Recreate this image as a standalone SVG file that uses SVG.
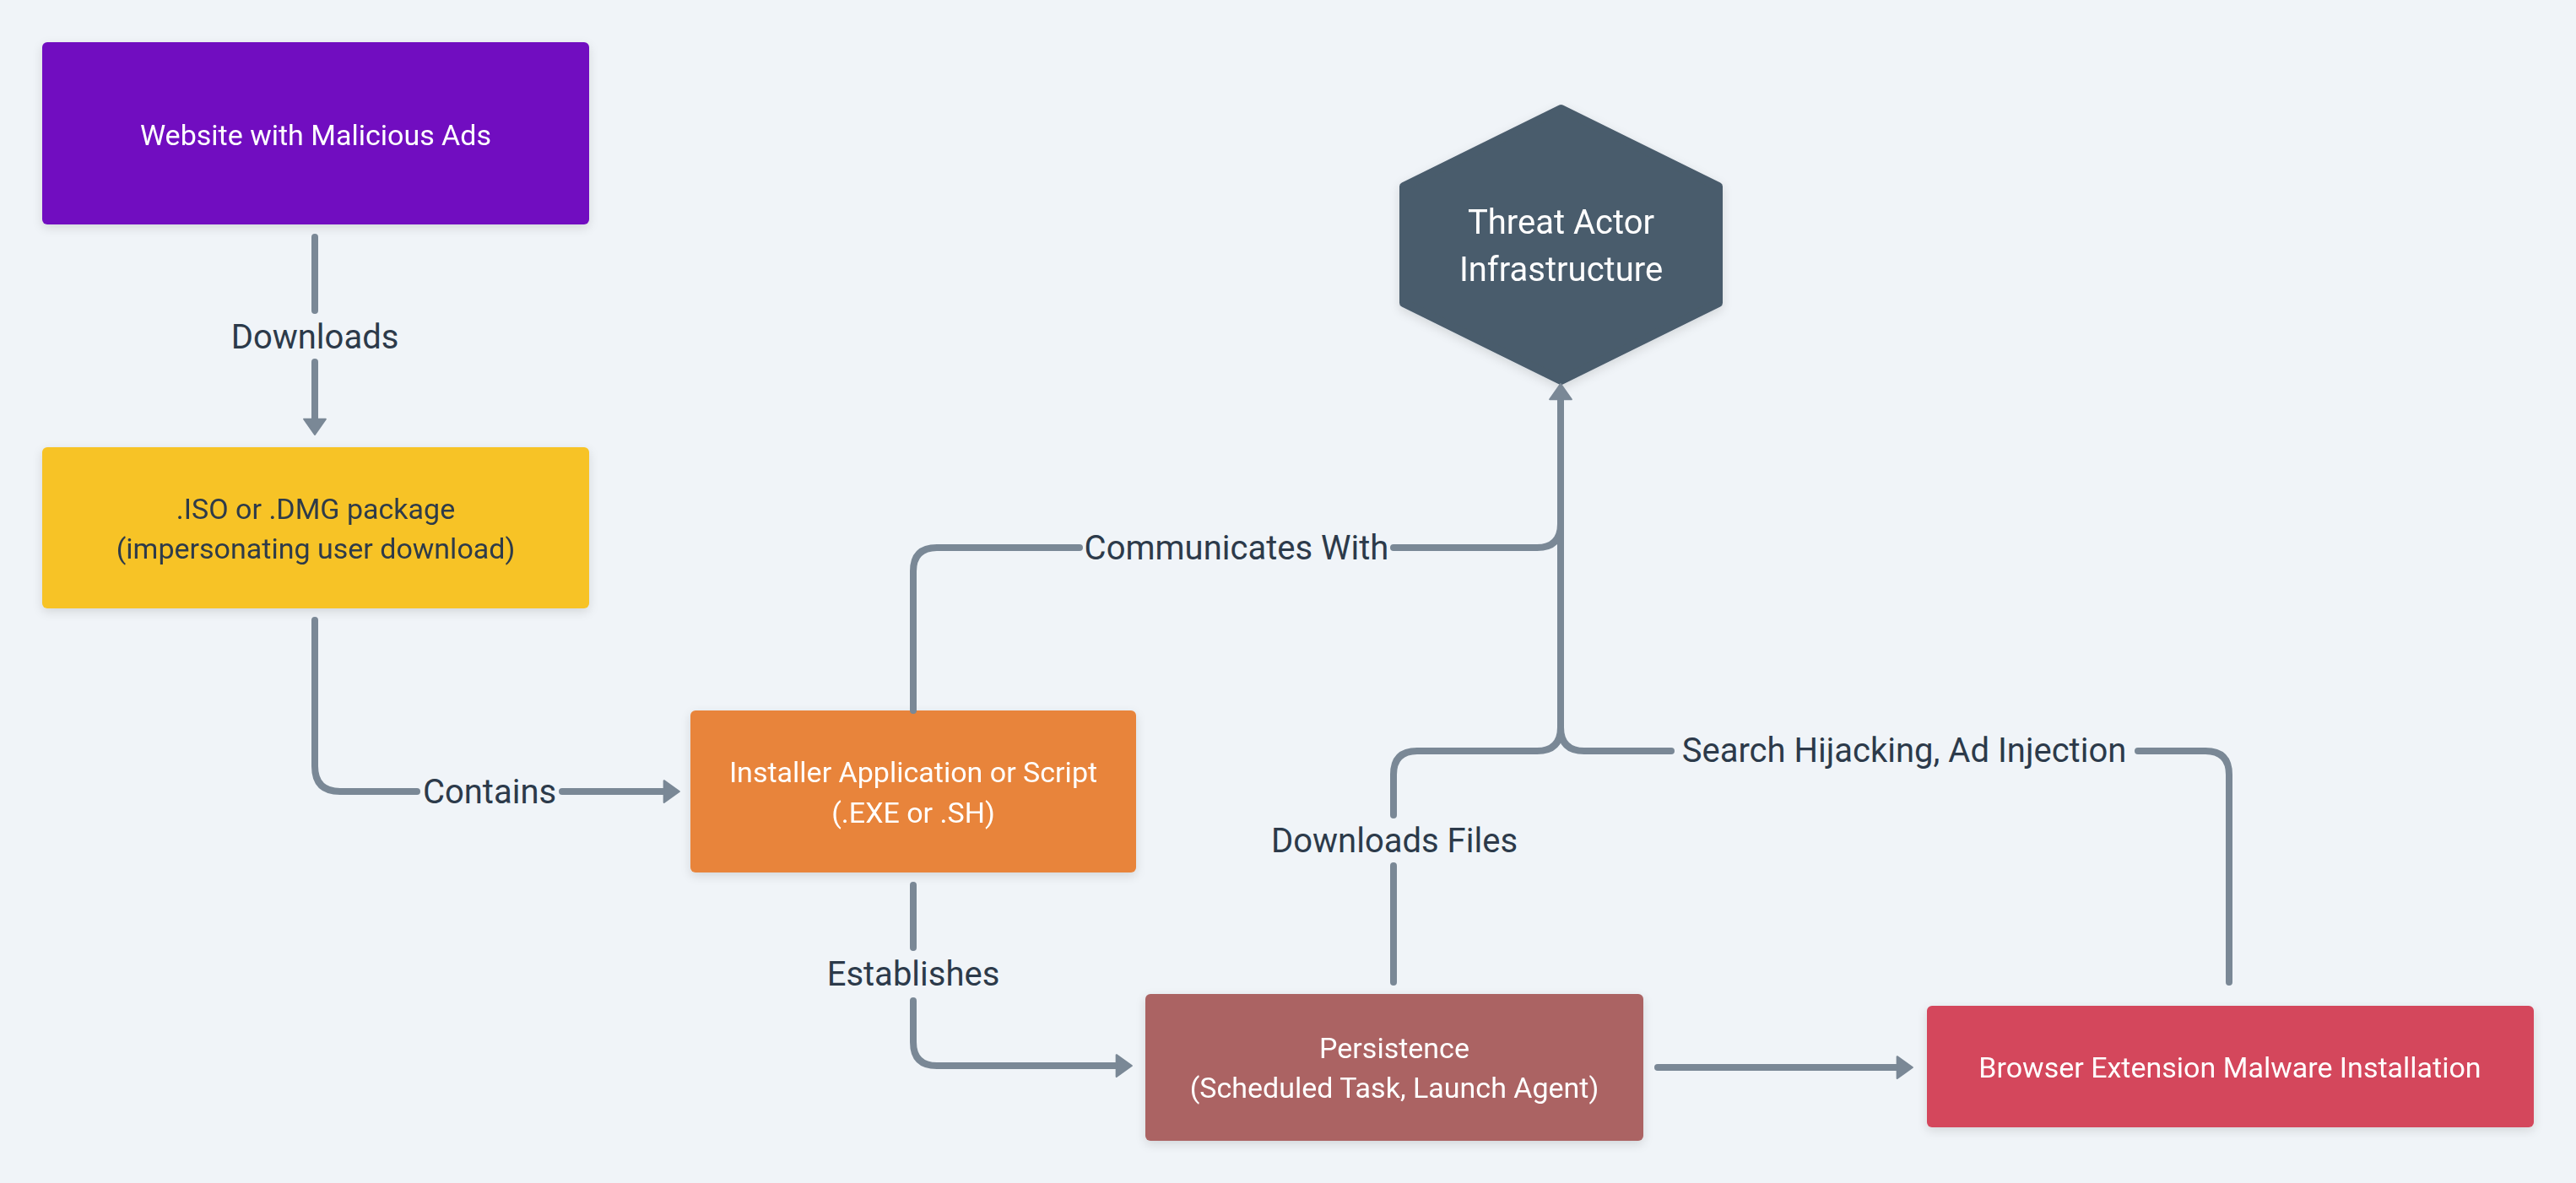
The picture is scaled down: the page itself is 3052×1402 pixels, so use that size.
<svg xmlns="http://www.w3.org/2000/svg" width="3052" height="1402" viewBox="0 0 3052 1402">
<style>
.bg{fill:#F0F4F8}
.node{filter:url(#sh)}
.nt{font-family:Roboto,"Liberation Sans",sans-serif;font-size:34px;text-anchor:middle;fill:#FFFFFF}
.nt.dark{fill:#2D3A4A}
.ht{font-family:Roboto,"Liberation Sans",sans-serif;font-size:40px;text-anchor:middle;fill:#FFFFFF}
.el{font-family:Roboto,"Liberation Sans",sans-serif;font-size:40px;text-anchor:middle;fill:#2C3A4A}
.c{fill:none;stroke:#7A8896;stroke-width:8;stroke-linecap:round;stroke-linejoin:round}
.a{marker-end:url(#arr)}
</style>
<defs>
<filter id="sh" x="-10%" y="-10%" width="120%" height="130%">
<feDropShadow dx="0" dy="4" stdDeviation="6" flood-color="#000" flood-opacity="0.12"/>
</filter>
<marker id="arr" markerUnits="userSpaceOnUse" markerWidth="30" markerHeight="32" viewBox="-2 -15 22 30" refX="4" refY="0" orient="auto">
<path d="M0,-12 L17,0 L0,12 z" fill="#7A8896" stroke="#7A8896" stroke-width="2" stroke-linejoin="round"/>
</marker>
</defs>
<rect class="bg" x="0" y="0" width="3052" height="1402"/>

<g id="website" class="node">
<rect x="50" y="50" width="648" height="216" rx="6" fill="#7110C0"/>
<text class="nt" x="374" y="172">Website with Malicious Ads</text>
</g>

<g id="package" class="node">
<rect x="50" y="530" width="648" height="191" rx="6" fill="#F7C325"/>
<text class="nt dark" x="374" y="615">.ISO or .DMG package</text>
<text class="nt dark" x="374" y="662">(impersonating user download)</text>
</g>

<g id="installer" class="node">
<rect x="818" y="842" width="528" height="192" rx="6" fill="#E8843A"/>
<text class="nt" x="1082" y="927">Installer Application or Script</text>
<text class="nt" x="1082" y="975">(.EXE or .SH)</text>
</g>

<g id="threat" class="node">
<polygon points="1849.5,129 2036,221 2036,359 1849.5,451 1663,359 1663,221" fill="#4A5C6C" stroke="#4A5C6C" stroke-width="10" stroke-linejoin="round"/>
<text class="ht" x="1849.5" y="277">Threat Actor</text>
<text class="ht" x="1849.5" y="333">Infrastructure</text>
</g>

<g id="persistence" class="node">
<rect x="1357" y="1178" width="590" height="174" rx="6" fill="#AB6464"/>
<text class="nt" x="1652" y="1254">Persistence</text>
<text class="nt" x="1652" y="1301">(Scheduled Task, Launch Agent)</text>
</g>

<g id="browser" class="node">
<rect x="2283" y="1192" width="719" height="144" rx="6" fill="#D4465B"/>
<text class="nt" x="2642" y="1277">Browser Extension Malware Installation</text>
</g>

<g id="connectors">
<path class="c" d="M373 281 L373 368"/>
<path class="c a" d="M373 429 L373 501"/>
<text class="el" x="373" y="413">Downloads</text>

<path class="c" d="M373 735 L373 908 Q373 938 403 938 L494 938"/>
<path class="c a" d="M666 938 L791 938"/>
<text class="el" x="580" y="952">Contains</text>

<path class="c" d="M1082 842 L1082 677 Q1082 649 1110 649 L1279 649"/>
<path class="c" d="M1651 649 L1821 649 Q1849 649 1849 621"/>
<text class="el" x="1465" y="663">Communicates With</text>

<path class="c a" d="M1849 862 L1849 469"/>

<path class="c" d="M1651 1164 L1651 1026"/>
<path class="c" d="M1651 966 L1651 918 Q1651 890 1679 890 L1821 890 Q1849 890 1849 862"/>
<text class="el" x="1652" y="1010">Downloads Files</text>

<path class="c" d="M2641 1164 L2641 918 Q2641 890 2613 890 L2533 890"/>
<path class="c" d="M1980 890 L1877 890 Q1849 890 1849 862"/>
<text class="el" x="2256" y="903">Search Hijacking, Ad Injection</text>

<path class="c" d="M1082 1049 L1082 1123"/>
<path class="c a" d="M1082 1186 L1082 1235 Q1082 1263 1110 1263 L1327 1263"/>
<text class="el" x="1082" y="1168">Establishes</text>

<path class="c a" d="M1964 1265 L2252 1265"/>
</g>
</svg>
